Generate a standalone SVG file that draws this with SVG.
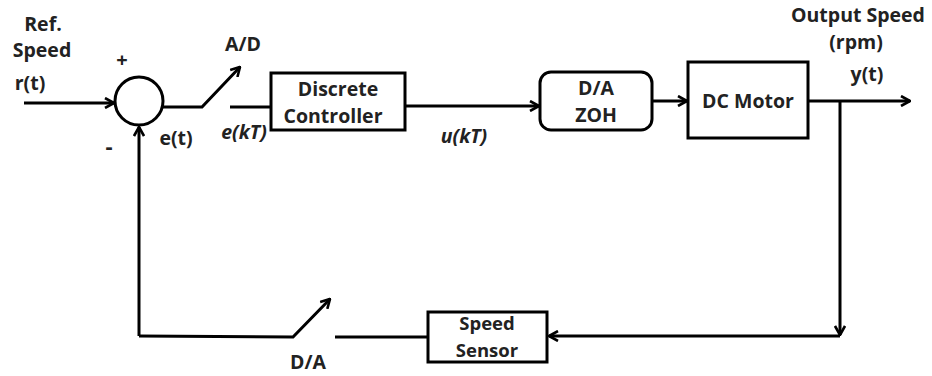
<svg xmlns="http://www.w3.org/2000/svg" width="932" height="376" viewBox="0 0 932 376">
<defs>
<marker id="arr" viewBox="0 0 12 12" refX="11" refY="6" markerWidth="12" markerHeight="12" markerUnits="userSpaceOnUse" orient="auto">
<path d="M2,1 L11,6 L2,11" fill="none" stroke="#000" stroke-width="2.6"/>
</marker>
</defs>
<style>
.ln{fill:none;stroke:#000;stroke-width:3}
.bx{fill:#fff;stroke:#000;stroke-width:3}
text{font-family:"Open Sans",Lato,"Liberation Sans",sans-serif;font-weight:bold;font-size:19.5px;fill:#222}
.it{font-style:italic}
.c{text-anchor:middle}
.sm{font-size:18.5px}
</style>
<rect width="932" height="376" fill="#fff"/>
<g id="connectors">
<path class="ln" d="M24,103 L114,103" marker-end="url(#arr)"/>
<path class="ln" d="M163,107 L202,107 L240,67" marker-end="url(#arr)"/>
<path class="ln" d="M230,107 L271,107"/>
<path class="ln" d="M405,106 L539,106" marker-end="url(#arr)"/>
<path class="ln" d="M652,101 L687,101" marker-end="url(#arr)"/>
<path class="ln" d="M808,101 L910,101" marker-end="url(#arr)"/>
<path class="ln" d="M840,101 L840,335" marker-end="url(#arr)"/>
<path class="ln" d="M840,336 L549,336" marker-end="url(#arr)"/>
<path class="ln" d="M428,337 L335,337"/>
<path class="ln" d="M139,336 L293,337 L330,299" marker-end="url(#arr)"/>
<path class="ln" d="M139,336 L139,127" marker-end="url(#arr)"/>
</g>
<g id="sum">
<circle class="bx" cx="139" cy="101" r="24"/>
<text x="122" y="67" class="c" style="font-size:20px">+</text>
<text x="109" y="154" class="c" style="font-size:22px">-</text>
</g>
<g id="labels">
<text x="43" y="31" class="c">Ref.</text>
<text x="42" y="57" class="c">Speed</text>
<text x="30" y="90" class="c">r(t)</text>
<text x="176" y="145" class="c">e(t)</text>
<text x="243" y="51" class="c">A/D</text>
<text x="244" y="139" class="c it">e(kT)</text>
<text x="464" y="143" class="c it">u(kT)</text>
<text x="858" y="22" class="c">Output Speed</text>
<text x="856" y="49" class="c">(rpm)</text>
<text x="867" y="81" class="c">y(t)</text>
<text x="308" y="369" class="c">D/A</text>
</g>
<g id="controller">
<rect class="bx" x="271" y="73" width="134" height="57"/>
<text x="338" y="96" class="c">Discrete</text>
<text x="333" y="123" class="c">Controller</text>
</g>
<g id="zoh">
<rect class="bx" x="540" y="72" width="112" height="58" rx="11"/>
<text x="596" y="95" class="c">D/A</text>
<text x="596" y="122" class="c">ZOH</text>
</g>
<g id="motor">
<rect class="bx" x="688" y="62" width="120" height="76"/>
<text x="748" y="108" class="c">DC Motor</text>
</g>
<g id="sensor">
<rect class="bx" x="428" y="312" width="119" height="50"/>
<text x="487" y="330" class="c sm">Speed</text>
<text x="487" y="357" class="c sm">Sensor</text>
</g>
</svg>
